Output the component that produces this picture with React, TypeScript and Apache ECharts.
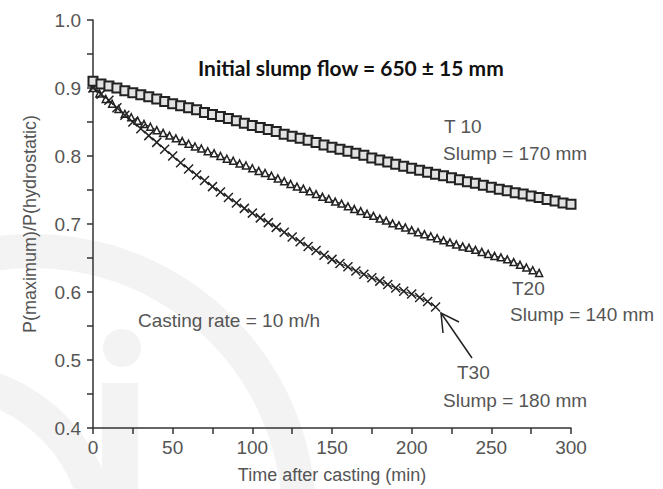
import React, { useEffect, useRef } from "react";
import * as echarts from "echarts";

const xTicks = [0, 50, 100, 150, 200, 250, 300];
const yTicks = [0.4, 0.5, 0.6, 0.7, 0.8, 0.9, 1.0];

const t10Time = [0,5,10,15,20,25,30,35,40,45,50,55,60,65,70,75,80,85,90,95,100,105,110,115,120,125,130,135,140,145,150,155,160,165,170,175,180,185,190,195,200,205,210,215,220,225,230,235,240,245,250,255,260,265,270,275,280,285,290,295,300];
const t10Value = [0.910,0.906,0.903,0.900,0.896,0.893,0.890,0.887,0.884,0.880,0.877,0.874,0.871,0.868,0.864,0.861,0.858,0.855,0.852,0.848,0.845,0.842,0.839,0.836,0.832,0.829,0.826,0.823,0.820,0.816,0.813,0.810,0.807,0.804,0.801,0.797,0.794,0.791,0.788,0.785,0.782,0.779,0.776,0.773,0.771,0.768,0.765,0.762,0.760,0.757,0.754,0.751,0.749,0.746,0.744,0.741,0.739,0.736,0.734,0.731,0.729];

const t20Time = [0,4,8,12,16,20,24,28,32,36,40,44,48,52,56,60,64,68,72,76,80,84,88,92,96,100,104,108,112,116,120,124,128,132,136,140,144,148,152,156,160,164,168,172,176,180,184,188,192,196,200,204,208,212,216,220,224,228,232,236,240,244,248,252,256,260,264,268,272,276,280];
const t20Value = [0.900,0.892,0.884,0.877,0.869,0.862,0.857,0.852,0.847,0.843,0.838,0.834,0.830,0.826,0.822,0.818,0.814,0.811,0.807,0.804,0.800,0.796,0.793,0.789,0.786,0.782,0.778,0.775,0.771,0.767,0.763,0.759,0.755,0.752,0.748,0.744,0.740,0.737,0.733,0.730,0.726,0.722,0.719,0.715,0.712,0.708,0.705,0.701,0.698,0.695,0.691,0.688,0.685,0.682,0.679,0.676,0.673,0.670,0.667,0.665,0.662,0.659,0.656,0.653,0.651,0.648,0.644,0.640,0.636,0.632,0.628];

const t30Time = [0,5,10,15,20,25,30,35,40,45,50,55,60,65,70,75,80,85,90,95,100,105,110,115,120,125,130,135,140,145,150,155,160,165,170,175,180,185,190,195,200,205,210,215];
const t30Value = [0.900,0.891,0.882,0.871,0.860,0.850,0.840,0.830,0.820,0.810,0.800,0.790,0.781,0.772,0.764,0.755,0.747,0.739,0.731,0.723,0.716,0.709,0.702,0.695,0.688,0.681,0.674,0.667,0.661,0.654,0.648,0.642,0.637,0.631,0.626,0.621,0.616,0.611,0.606,0.601,0.597,0.592,0.586,0.578];

const zip = (xs: number[], ys: number[]) => xs.map((x, i) => [x, ys[i]]);

const TEXT = "#555";
const INK = "#222";
const WM = "#f3f3f3";
const FONT = "'Liberation Sans', Arial, sans-serif";

export default function App() {
  const ref = useRef<HTMLDivElement>(null);
  useEffect(() => {
    if (!ref.current) return;
    const chart = echarts.init(ref.current, undefined, { renderer: "svg" });
    const txt = (x: number, y: number, s: string, extra: any = {}) => ({
      type: "text",
      x,
      y,
      z: 10,
      style: {
        text: s,
        fill: TEXT,
        font: `19px ${FONT}`,
        textVerticalAlign: "middle",
        verticalAlign: "middle",
        ...extra,
      },
    });
    chart.setOption({
      animation: false,
      backgroundColor: "#fff",
      grid: { left: 93, right: 92, top: 20, bottom: 61, containLabel: false },
      xAxis: {
        type: "value",
        min: xTicks[0],
        max: xTicks[xTicks.length - 1],
        interval: 50,
        name: "Time after casting (min)",
        nameLocation: "middle",
        nameGap: 38,
        nameTextStyle: { fontSize: 18, color: TEXT, fontFamily: FONT },
        axisLine: { show: true, onZero: false, lineStyle: { color: "#333", width: 1.5 } },
        axisTick: { show: true, inside: false, length: 6, lineStyle: { color: "#333", width: 1.5 } },
        minorTick: { show: true, splitNumber: 2, length: 6, lineStyle: { color: "#333", width: 1.5 } },
        axisLabel: { fontSize: 19, color: TEXT, fontFamily: FONT, margin: 10 },
        splitLine: { show: false },
      },
      yAxis: {
        type: "value",
        min: yTicks[0],
        max: yTicks[yTicks.length - 1],
        interval: 0.1,
        name: "P(maximum)/P(hydrostatic)",
        nameLocation: "middle",
        nameGap: 54,
        nameTextStyle: { fontSize: 18, color: TEXT, fontFamily: FONT },
        axisLine: { show: true, onZero: false, lineStyle: { color: "#333", width: 1.5 } },
        axisTick: { show: true, inside: false, length: 6, lineStyle: { color: "#333", width: 1.5 } },
        minorTick: { show: true, splitNumber: 2, length: 6, lineStyle: { color: "#333", width: 1.5 } },
        axisLabel: {
          fontSize: 19,
          color: TEXT,
          fontFamily: FONT,
          margin: 12,
          formatter: (v: number) => v.toFixed(1),
        },
        splitLine: { show: false },
      },
      series: [
        {
          name: "T10",
          type: "line",
          data: zip(t10Time, t10Value),
          symbol: "rect",
          symbolSize: 9,
          lineStyle: { color: INK, width: 1 },
          itemStyle: { color: "#e2e2e2", borderColor: INK, borderWidth: 2 },
          z: 3,
        },
        {
          name: "T20",
          type: "line",
          data: zip(t20Time, t20Value),
          symbol: "triangle",
          symbolSize: 7,
          lineStyle: { color: INK, width: 1 },
          itemStyle: { color: "#fff", borderColor: INK, borderWidth: 1.5 },
          z: 2,
        },
        {
          name: "T30",
          type: "line",
          data: zip(t30Time, t30Value),
          symbol: "path://M0,0L10,10M10,0L0,10",
          symbolSize: 9,
          lineStyle: { color: INK, width: 1 },
          itemStyle: { color: "transparent", borderColor: INK, borderWidth: 1.5 },
          z: 2,
        },
      ],
      graphic: [
        {
          type: "arc",
          z: -10,
          silent: true,
          shape: { cx: 33, cy: 517, r: 266, startAngle: -1.85, endAngle: -0.02, clockwise: true },
          style: { stroke: WM, lineWidth: 34, fill: "none" },
        },
        {
          type: "arc",
          z: -10,
          silent: true,
          shape: { cx: -60, cy: 540, r: 160, startAngle: -1.7, endAngle: -0.2, clockwise: true },
          style: { stroke: WM, lineWidth: 34, fill: "none" },
        },
        {
          type: "circle",
          z: -10,
          silent: true,
          shape: { cx: 122, cy: 348, r: 19 },
          style: { fill: WM },
        },
        {
          type: "rect",
          z: -10,
          silent: true,
          shape: { x: 102, y: 383, width: 36, height: 106 },
          style: { fill: WM },
        },
        txt(198, 67, "Initial slump flow = 650 ± 15 mm", {
          fill: "#111",
          font: "bold 21px Lato, 'Open Sans', sans-serif",
        }),
        txt(444, 126, "T 10"),
        txt(443, 153, "Slump = 170 mm"),
        txt(512, 288, "T20"),
        txt(510, 314, "Slump = 140 mm"),
        txt(457, 372, "T30"),
        txt(443, 400, "Slump = 180 mm"),
        txt(138, 320, "Casting rate = 10 m/h"),
        {
          type: "line",
          z: 10,
          shape: { x1: 472, y1: 358, x2: 441, y2: 313 },
          style: { stroke: INK, lineWidth: 1.5 },
        },
        {
          type: "polyline",
          z: 10,
          shape: { points: [[459, 322], [441, 313], [443, 333]] },
          style: { stroke: INK, lineWidth: 1.5, fill: "none" },
        },
      ],
    });
    return () => chart.dispose();
  }, []);
  return (
    <div
      ref={ref}
      style={{ position: "fixed", left: 0, top: 0, width: 663, height: 489 }}
    />
  );
}
